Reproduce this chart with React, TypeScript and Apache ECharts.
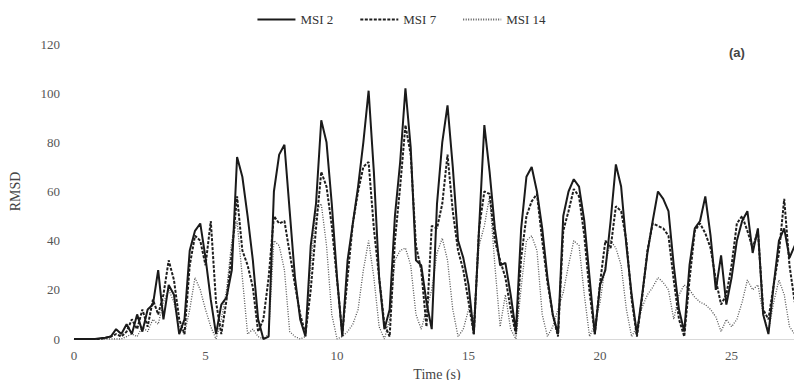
import React, { useEffect, useRef } from "react";
import * as echarts from "echarts";

const TIME_STEP = 0.2;
const X_TICKS = [0, 5, 10, 15, 20, 25];
const Y_TICKS = [0, 20, 40, 60, 80, 100, 120];

const msi2 = [
  0, 0, 0, 0, 0, 0.3, 0.5, 1, 4, 2,
  6, 2, 10, 3, 12, 14, 28, 8, 22, 18,
  2, 8, 36, 44, 47, 33, 16, 2, 14, 17,
  28, 74, 66, 50, 32, 8, 0, 1, 60, 75,
  79, 52, 25, 8, 1, 38, 55, 89, 80, 55,
  25, 1, 32, 47, 62, 80, 101, 68, 25, 4,
  12, 50, 72, 102, 78, 32, 30, 15, 4, 55,
  80, 95, 70, 40, 33, 22, 2, 45, 87, 68,
  45, 30, 31, 18, 3, 45, 66, 70, 60, 45,
  25, 10, 2, 50, 60, 65, 62, 48, 25, 2,
  22, 28, 48, 71, 62, 38, 18, 2, 18, 35,
  48, 60, 57, 52, 30, 12, 3, 30, 45, 48,
  58, 42, 20, 34, 14, 25, 40, 48, 52, 35,
  45, 10, 2, 22, 40, 45, 33, 38, 36,
];

const msi7 = [
  0, 0, 0, 0, 0, 0, 0.5, 1, 2, 1,
  3, 8, 4, 12, 5, 16, 10, 18, 32, 24,
  8, 2, 30, 42, 40, 30, 48, 15, 2, 16,
  35, 58, 36, 30, 21, 3, 8, 25, 50, 47,
  48, 35, 22, 10, 2, 20, 45, 68, 62, 46,
  24, 2, 25, 47, 60, 70, 72, 45, 25, 6,
  1, 40, 62, 87, 75, 38, 28, 5, 46, 45,
  55, 75, 52, 36, 28, 15, 2, 45, 60, 59,
  40, 32, 25, 12, 2, 33, 50, 56, 59, 40,
  23, 10, 1, 44, 52, 61, 58, 42, 19, 2,
  23, 40, 37, 54, 52, 40, 16, 1, 17, 36,
  47, 46, 45, 42, 24, 8, 1, 24, 44, 47,
  43, 37, 24, 14, 18, 30, 47, 50, 44, 37,
  44, 12, 8, 22, 35, 57, 30, 15, 23,
];

const msi14 = [
  0, 0, 0, 0, 0, 0, 0, 0, 0, 0,
  1, 2, 1, 5, 3, 8, 6, 15, 20, 15,
  5, 2, 12, 25, 20, 12, 5, 0, 8, 20,
  40, 48, 25, 2, 4, 1, 0, 2, 40, 38,
  28, 3, 1, 0, 1, 30, 52, 55, 38, 10,
  0, 1, 3, 6, 12, 28, 40, 25, 5, 0,
  8, 32, 36, 37, 30, 10, 4, 12, 20, 35,
  41, 32, 12, 1, 4, 12, 8, 38, 46, 58,
  30, 5, 18, 4, 0, 21, 40, 42, 36, 10,
  1, 5, 12, 19, 30, 40, 38, 18, 1, 6,
  15, 30, 40, 37, 30, 12, 1, 5, 13, 18,
  21, 25, 23, 20, 8, 18, 22, 20, 17, 15,
  14, 12, 9, 3, 8, 5, 8, 15, 24, 20,
  22, 10, 3, 15, 24, 18, 5, 2, 12,
];

const toPairs = (vals: number[]) =>
  vals.map((v, i) => [Number((i * TIME_STEP).toFixed(2)), v]);

export default function App() {
  const ref = useRef<HTMLDivElement>(null);
  useEffect(() => {
    if (!ref.current) return;
    const chart = echarts.init(ref.current, undefined, { renderer: "svg" });
    const serif = "Liberation Serif, Times New Roman, serif";
    chart.setOption({
      animation: false,
      backgroundColor: "#ffffff",
      legend: {
        top: 8,
        left: "center",
        itemWidth: 38,
        itemHeight: 10,
        itemGap: 26,
        itemStyle: { opacity: 0 },
        textStyle: { fontFamily: serif, fontSize: 13, color: "#333" },
        data: ["MSI 2", "MSI 7", "MSI 14"],
      },
      grid: { left: 73, right: 2, top: 44, bottom: 49, containLabel: false },
      graphic: [
        {
          type: "text",
          left: 729,
          top: 46,
          style: {
            text: "(a)",
            font: "bold 13px Liberation Sans, Arial, sans-serif",
            fill: "#444",
          },
        },
      ],
      xAxis: {
        type: "value",
        min: X_TICKS[0],
        max: 27.6,
        interval: 5,
        name: "Time (s)",
        nameLocation: "middle",
        nameGap: 28,
        nameTextStyle: { fontFamily: serif, fontSize: 14, color: "#444" },
        axisLine: { show: true, lineStyle: { color: "#d9d9d9", width: 1 } },
        axisTick: { show: false },
        splitLine: { show: false },
        axisLabel: {
          fontFamily: serif,
          fontSize: 13,
          color: "#555",
          margin: 10,
          showMaxLabel: false,
        },
      },
      yAxis: {
        type: "value",
        min: Y_TICKS[0],
        max: Y_TICKS[Y_TICKS.length - 1],
        interval: 20,
        name: "RMSD",
        nameLocation: "middle",
        nameGap: 52,
        nameTextStyle: { fontFamily: serif, fontSize: 14, color: "#444" },
        axisLine: { show: false },
        axisTick: { show: false },
        splitLine: { show: false },
        axisLabel: { fontFamily: serif, fontSize: 13, color: "#555", margin: 14 },
      },
      series: [
        {
          name: "MSI 2",
          type: "line",
          data: toPairs(msi2),
          showSymbol: false,
          symbol: "none",
          z: 4,
          lineStyle: { color: "#1a1a1a", width: 2, type: "solid" },
          itemStyle: { color: "#1a1a1a" },
        },
        {
          name: "MSI 7",
          type: "line",
          data: toPairs(msi7),
          showSymbol: false,
          symbol: "none",
          z: 3,
          lineStyle: { color: "#1e1e1e", width: 2, type: [3, 1.5] },
          itemStyle: { color: "#1e1e1e" },
        },
        {
          name: "MSI 14",
          type: "line",
          data: toPairs(msi14),
          showSymbol: false,
          symbol: "none",
          z: 2,
          lineStyle: { color: "#555", width: 1.3, type: [1, 1.5] },
          itemStyle: { color: "#555" },
        },
      ],
    });
    return () => chart.dispose();
  }, []);
  return <div ref={ref} style={{ width: 802, height: 388, margin: -8 }} />;
}
